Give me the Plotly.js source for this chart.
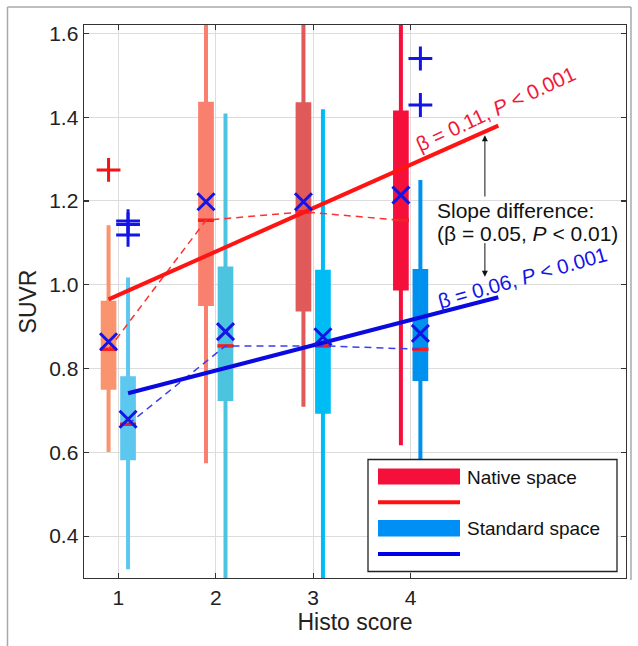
<!DOCTYPE html>
<html>
<head>
<meta charset="utf-8">
<script src="https://cdn.plot.ly/plotly-3.0.1.min.js"></script>
<style>html,body{margin:0;padding:0;background:#fff;}#chart{width:638px;height:646px;}</style>
</head>
<body>
<div id="chart"></div>
<script>
// ---------- data ----------
const groups = [1, 2, 3, 4];
const xTickLabels = ['1', '2', '3', '4'];
const yTickVals = [0.4, 0.6, 0.8, 1.0, 1.2, 1.4, 1.6];

const nativeQ1     = [0.754, 0.954, 0.941, 0.991];
const nativeMedian = [0.846, 1.154, 1.174, 1.154];
const nativeQ3     = [0.957, 1.432, 1.431, 1.411];
const nativeLower  = [0.601, 0.574, 0.709, 0.617];
const nativeUpper  = [1.142, 1.700, 1.700, 1.700];
const nativeMean   = [0.864, 1.198, 1.198, 1.214];

const standardQ1     = [0.586, 0.727, 0.697, 0.775];
const standardMedian = [0.667, 0.854, 0.854, 0.846];
const standardQ3     = [0.777, 1.039, 1.031, 1.033];
const standardLower  = [0.321, 0.200, 0.200, 0.450];
const standardUpper  = [1.017, 1.409, 1.419, 1.250];
const standardMean   = [0.679, 0.888, 0.876, 0.884];

const nativeOutlierGroup = [1];
const nativeOutlierY     = [1.274];
const standardOutlierGroup = [1, 1, 1, 4, 4];
const standardOutlierY     = [1.152, 1.144, 1.119, 1.540, 1.429];

const nativeFitX = [0.9, 4.9];
const nativeFitY = [0.965, 1.380];
const standardFitX = [1.1, 4.9];
const standardFitY = [0.741, 0.970];

const nativeColors   = ['#F9946E', '#F97F6E', '#E05A5A', '#F5103C'];
const standardColors = ['#5CC8F0', '#4CC4E0', '#00BCF5', '#0090EE'];

// ---------- build ----------
const OFF = 0.1;
const FONT = 'Arial, "Liberation Sans", sans-serif';
const BLUE = '#1414E6';
const traces = [];

function addBoxes(q1, med, q3, lo, hi, colors, off, name) {
  groups.forEach((g, i) => {
    traces.push({
      type: 'box', orientation: 'v', name: name + g, showlegend: false,
      x: [g + off], q1: [q1[i]], median: [med[i]], q3: [q3[i]],
      lowerfence: [lo[i]], upperfence: [hi[i]],
      boxpoints: false, width: 0.12, whiskerwidth: 0,
      fillcolor: colors[i], line: { color: colors[i], width: 4 },
      hoverinfo: 'skip'
    });
  });
}
addBoxes(nativeQ1, nativeMedian, nativeQ3, nativeLower, nativeUpper, nativeColors, -OFF, 'native');
addBoxes(standardQ1, standardMedian, standardQ3, standardLower, standardUpper, standardColors, OFF, 'standard');

// medians (red ticks)
traces.push({
  type: 'scatter', mode: 'markers', showlegend: false, hoverinfo: 'skip',
  x: groups.map(g => g - OFF).concat(groups.map(g => g + OFF)),
  y: nativeMedian.concat(standardMedian),
  marker: { symbol: 'line-ew', size: 11.5, color: '#F22020', line: { color: '#F22020', width: 3.5 } }
});

// dashed median connectors
traces.push({
  type: 'scatter', mode: 'lines', showlegend: false, hoverinfo: 'skip',
  x: groups.map(g => g - OFF), y: nativeMedian,
  line: { color: '#FF3030', width: 1.5, dash: '7px,5px' }
});
traces.push({
  type: 'scatter', mode: 'lines', showlegend: false, hoverinfo: 'skip',
  x: groups.map(g => g + OFF), y: standardMedian,
  line: { color: '#3C3CF0', width: 1.5, dash: '7px,5px' }
});

// regression lines
traces.push({
  type: 'scatter', mode: 'lines', showlegend: false, hoverinfo: 'skip',
  x: nativeFitX, y: nativeFitY, line: { color: '#FF1414', width: 4 }
});
traces.push({
  type: 'scatter', mode: 'lines', showlegend: false, hoverinfo: 'skip',
  x: standardFitX, y: standardFitY, line: { color: '#0A0AE0', width: 4 }
});

// outliers
traces.push({
  type: 'scatter', mode: 'markers', showlegend: false, hoverinfo: 'skip',
  x: nativeOutlierGroup.map(g => g - OFF), y: nativeOutlierY,
  marker: { symbol: 'cross-thin-open', size: 17, color: '#F41414', line: { color: '#F41414', width: 3 } }
});
traces.push({
  type: 'scatter', mode: 'markers', showlegend: false, hoverinfo: 'skip',
  x: standardOutlierGroup.map(g => g + OFF), y: standardOutlierY,
  marker: { symbol: 'cross-thin-open', size: 17, color: BLUE, line: { color: BLUE, width: 3 } }
});

// means (blue X)
traces.push({
  type: 'scatter', mode: 'markers', showlegend: false, hoverinfo: 'skip',
  x: groups.map(g => g - OFF).concat(groups.map(g => g + OFF)),
  y: nativeMean.concat(standardMean),
  marker: { symbol: 'x-thin-open', size: 17, color: BLUE, line: { color: BLUE, width: 3 } }
});

// ---------- layout ----------
const L = 84, R = 12, T = 25, B = 68, W = 638, H = 646;
const PW = W - L - R, PH = H - T - B;
const px = v => (v - L) / PW;           // pixel -> paper x
const py = v => (H - B - v) / PH;       // pixel -> paper y

const shapes = [
  // outer figure frame
  { type: 'line', xref: 'paper', yref: 'paper', x0: px(7.5), x1: px(7.5), y0: py(7), y1: py(660), line: { color: '#A8A8A8', width: 1.5 }, layer: 'above' },
  { type: 'line', xref: 'paper', yref: 'paper', x0: px(7.5), x1: px(631), y0: py(7), y1: py(7), line: { color: '#A8A8A8', width: 1.5 }, layer: 'above' },
  { type: 'line', xref: 'paper', yref: 'paper', x0: px(631), x1: px(631), y0: py(7), y1: py(580), line: { color: '#A8A8A8', width: 1.5 }, layer: 'above' },
  // legend box
  { type: 'rect', xref: 'paper', yref: 'paper', x0: px(368), x1: px(617), y0: py(459.5), y1: py(571.5), fillcolor: '#FFFFFF', line: { color: '#222', width: 1.3 }, layer: 'above' },
  { type: 'rect', xref: 'paper', yref: 'paper', x0: px(378), x1: px(460), y0: py(468.5), y1: py(484.5), fillcolor: '#F5103C', line: { width: 0 }, layer: 'above' },
  { type: 'line', xref: 'paper', yref: 'paper', x0: px(378), x1: px(460), y0: py(502.3), y1: py(502.3), line: { color: '#FF1010', width: 4 }, layer: 'above' },
  { type: 'rect', xref: 'paper', yref: 'paper', x0: px(378), x1: px(460), y0: py(520), y1: py(536.5), fillcolor: '#0090F5', line: { width: 0 }, layer: 'above' },
  { type: 'line', xref: 'paper', yref: 'paper', x0: px(378), x1: px(460), y0: py(554), y1: py(554), line: { color: '#0000E6', width: 4 }, layer: 'above' }
];

const annotations = [
  { xref: 'x', yref: 'y', x: 4.875, y: 1.42, text: 'β = 0.11, <i>P</i> < 0.001', showarrow: false,
    textangle: -25, font: { family: FONT, size: 20.5, color: '#F01838' } },
  { xref: 'x', yref: 'y', x: 5.145, y: 1.018, text: 'β = 0.06, <i>P</i> < 0.001', showarrow: false,
    textangle: -16, font: { family: FONT, size: 20.5, color: BLUE } },
  { xref: 'x', yref: 'y', x: 4.255, y: 1.178, xanchor: 'left', yanchor: 'middle', align: 'left',
    text: 'Slope difference:', showarrow: false,
    font: { family: FONT, size: 21, color: '#111' } },
  { xref: 'x', yref: 'y', x: 4.255, y: 1.123, xanchor: 'left', yanchor: 'middle', align: 'left',
    text: '(β = 0.05, <i>P</i> < 0.01)', showarrow: false,
    font: { family: FONT, size: 21, color: '#111' } },
  // arrows
  { xref: 'x', yref: 'y', axref: 'x', ayref: 'y', x: 4.762, y: 1.357, ax: 4.762, ay: 1.207,
    text: '', showarrow: true, arrowhead: 2, arrowsize: 1.2, arrowwidth: 1, arrowcolor: '#111' },
  { xref: 'x', yref: 'y', axref: 'x', ayref: 'y', x: 4.762, y: 1.019, ax: 4.762, ay: 1.103,
    text: '', showarrow: true, arrowhead: 2, arrowsize: 1.2, arrowwidth: 1, arrowcolor: '#111' },
  // legend labels
  { xref: 'paper', yref: 'paper', x: px(465), y: py(477), xanchor: 'left', yanchor: 'middle',
    text: 'Native space', showarrow: false, font: { family: FONT, size: 19, color: '#111' } },
  { xref: 'paper', yref: 'paper', x: px(465), y: py(528), xanchor: 'left', yanchor: 'middle',
    text: 'Standard space', showarrow: false, font: { family: FONT, size: 19, color: '#111' } }
];

const layout = {
  width: W, height: H,
  margin: { l: L, r: R, t: T, b: B, pad: 0 },
  paper_bgcolor: '#FFFFFF', plot_bgcolor: '#FFFFFF',
  showlegend: false, boxmode: 'overlay',
  font: { family: FONT, size: 21, color: '#222' },
  xaxis: {
    range: [0.648, 6.21], tickvals: groups, ticktext: xTickLabels,
    ticks: 'inside', ticklen: 5, tickwidth: 1.2, tickcolor: '#333',
    showline: true, mirror: 'ticks', linecolor: '#333', linewidth: 1.4,
    showgrid: true, gridcolor: '#DCDCDC', gridwidth: 1, zeroline: false,
    tickfont: { family: FONT, size: 21, color: '#222' },
    title: { text: 'Histo score', font: { family: FONT, size: 23, color: '#222' }, standoff: 4 }
  },
  yaxis: {
    range: [0.3, 1.62], tickvals: yTickVals, tickformat: '.1f',
    ticks: 'inside', ticklen: 5, tickwidth: 1.2, tickcolor: '#333',
    showline: true, mirror: 'ticks', linecolor: '#333', linewidth: 1.4,
    showgrid: true, gridcolor: '#DCDCDC', gridwidth: 1, zeroline: false,
    tickfont: { family: FONT, size: 21, color: '#222' },
    title: { text: 'SUVR', font: { family: FONT, size: 23, color: '#222' }, standoff: 6 }
  },
  shapes: shapes,
  annotations: annotations
};

Plotly.newPlot('chart', traces, layout, { staticPlot: true, displayModeBar: false });
</script>
</body>
</html>
